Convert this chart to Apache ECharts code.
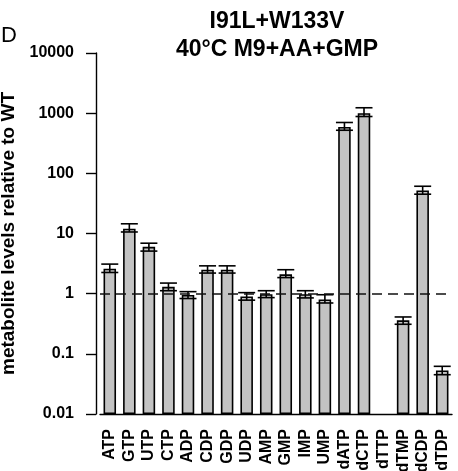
<!DOCTYPE html>
<html>
<head>
<meta charset="utf-8">
<script src="https://cdn.jsdelivr.net/npm/echarts@6/dist/echarts.min.js"></script>
<style>
  html, body { margin: 0; padding: 0; background: #fff; }
  #chart { width: 458px; height: 471px; }
</style>
</head>
<body>
<div id="chart"></div>
<script>
// metabolite levels relative to WT
const categories = ["ATP", "GTP", "UTP", "CTP", "ADP", "CDP", "GDP", "UDP", "AMP",
  "GMP", "IMP", "UMP", "dATP", "dCTP", "dTTP", "dTMP", "dCDP", "dTDP"];
const levels = [2.6, 12, 6.0, 1.3, 0.95, 2.5, 2.5, 0.9, 0.98,
  2.1, 0.98, 0.8, 590, 1000, "-", 0.36, 52, 0.053];
const errLow = [2.25, 10.6, 5.1, 1.12, 0.83, 2.2, 2.2, 0.78, 0.86,
  1.85, 0.85, 0.7, 520, 880, "-", 0.31, 45, 0.045];
const errHigh = [3.1, 14.5, 6.9, 1.5, 1.08, 2.9, 2.9, 1.04, 1.12,
  2.5, 1.12, 0.96, 700, 1230, "-", 0.41, 61, 0.062];
const yTicks = [0.01, 0.1, 1, 10, 100, 1000, 10000];

const chart = echarts.init(document.getElementById("chart"));
const font = '"Liberation Sans", Arial, sans-serif';

const errData = categories.map((c, i) => [i, errLow[i], errHigh[i]]);

chart.setOption({
  animation: false,
  textStyle: { fontFamily: font },
  title: [
    {
      text: "I91L+W133V\n40°C M9+AA+GMP",
      left: 272,
      top: 3,
      textAlign: "center",
      textStyle: { fontSize: 23, fontWeight: "bold", color: "#000", lineHeight: 28, fontFamily: font },
    },
    {
      text: "D",
      left: -4,
      top: 20,
      textStyle: { fontSize: 22, fontWeight: "normal", color: "#000", fontFamily: font },
    },
  ],
  grid: { left: 100, right: 6, top: 53, bottom: 57, outerBoundsMode: "none", containLabel: false },
  xAxis: {
    type: "category",
    data: categories,
    axisLine: { lineStyle: { color: "#000", width: 1.4 } },
    axisTick: { alignWithLabel: true, length: 9, lineStyle: { color: "#000", width: 1.4 } },
    axisLabel: {
      rotate: 90,
      interval: 0,
      margin: 15,
      color: "#000",
      fontWeight: "bold",
      fontSize: 16,
      fontFamily: font,
    },
  },
  yAxis: {
    type: "log",
    logBase: 10,
    min: 0.01,
    max: 10000,
    startValue: 0.01,
    offset: 4,
    name: "metabolite levels relative to WT",
    nameLocation: "middle",
    nameGap: 65,
    nameTextStyle: { fontSize: 19, fontWeight: "bold", color: "#000", fontFamily: font },
    splitLine: { show: false },
    axisLine: { show: true, lineStyle: { color: "#000", width: 1.4 } },
    axisTick: { show: true, length: 10, lineStyle: { color: "#000", width: 1.4 } },
    axisLabel: {
      margin: 22,
      color: "#000",
      fontWeight: "bold",
      fontSize: 16,
      fontFamily: font,
      formatter: (v) => (yTicks.includes(+v.toPrecision(3)) ? String(+v.toPrecision(3)) : ""),
    },
  },
  series: [
    {
      type: "bar",
      data: levels,
      barWidth: "64%",
      itemStyle: { color: "#c3c3c3", borderColor: "#000", borderWidth: 1.6 },
      markLine: {
        silent: true,
        symbol: "none",
        label: { show: false },
        lineStyle: { color: "#111", type: [10, 6], width: 1.6 },
        data: [{ yAxis: 1 }],
      },
    },
    {
      type: "custom",
      data: errData,
      encode: { x: 0, y: [1, 2] },
      z: 3,
      renderItem: (params, api) => {
        if (isNaN(api.value(1))) return null;
        const lo = api.coord([api.value(0), api.value(1)]);
        const hi = api.coord([api.value(0), api.value(2)]);
        const half = 8.5;
        const style = { stroke: "#000", lineWidth: 1.6 };
        return {
          type: "group",
          children: [
            { type: "line", shape: { x1: lo[0], y1: lo[1], x2: hi[0], y2: hi[1] }, style },
            { type: "line", shape: { x1: lo[0] - half, y1: lo[1], x2: lo[0] + half, y2: lo[1] }, style },
            { type: "line", shape: { x1: hi[0] - half, y1: hi[1], x2: hi[0] + half, y2: hi[1] }, style },
          ],
        };
      },
    },
  ],
});
</script>
</body>
</html>
